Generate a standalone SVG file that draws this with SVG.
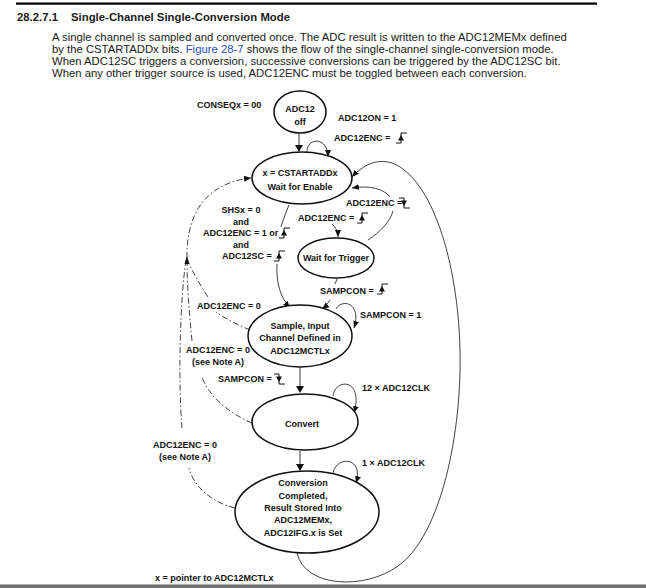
<svg xmlns="http://www.w3.org/2000/svg" xmlns:xlink="http://www.w3.org/1999/xlink" width="646" height="588" viewBox="0 0 646 588">
<style>
.t{font-family:"Liberation Sans",Arial,sans-serif;font-size:9px;font-weight:bold;fill:#111}
.c{text-anchor:middle}
.p{font-family:"Liberation Sans",Arial,sans-serif;font-size:11.3px;fill:#1a1a1a}
.h{font-family:"Liberation Sans",Arial,sans-serif;font-size:11.3px;font-weight:bold;fill:#1a1a1a}
.n{fill:#fff;stroke:#111;stroke-width:1.5}
.l{fill:none;stroke:#111;stroke-width:0.8}
.d{fill:none;stroke:#111;stroke-width:0.8;stroke-dasharray:6 2.5 1.5 2.5}
.g{fill:none;stroke:#999;stroke-width:2}
</style>
<defs>
<marker id="a" markerUnits="userSpaceOnUse" markerWidth="8" markerHeight="8" refX="7" refY="4" orient="auto"><path d="M0,1 L7,4 L0,7 z" fill="#111"/></marker>
<symbol id="rise" overflow="visible"><path d="M0,10 H5 V0 H11" fill="none" stroke="#111" stroke-width="1"/><path d="M2,7.5 L5,2 L8,7.5 z" fill="#111"/></symbol>
<symbol id="fall" overflow="visible"><path d="M0,0 H5 V10 H11" fill="none" stroke="#111" stroke-width="1"/><path d="M2,2.5 L5,8 L8,2.5 z" fill="#111"/></symbol>
</defs>
<rect width="646" height="588" fill="#fff"/>
<rect x="16" y="2.5" width="581" height="2.2" fill="#000"/>
<text class="h" x="17" y="21" textLength="41">28.2.7.1</text>
<text class="h" x="71" y="21" textLength="219">Single-Channel Single-Conversion Mode</text>
<text class="p" x="52" y="41">A single channel is sampled and converted once. The ADC result is written to the ADC12MEMx defined</text>
<text class="p" x="52" y="53">by the CSTARTADDx bits. <tspan fill="#2a4fb5">Figure 28-7</tspan> shows the flow of the single-channel single-conversion mode.</text>
<text class="p" x="52" y="65">When ADC12SC triggers a conversion, successive conversions can be triggered by the ADC12SC bit.</text>
<text class="p" x="52" y="77">When any other trigger source is used, ADC12ENC must be toggled between each conversion.</text>

<g id="connectors">
<path class="g" d="M299,133 V147" /><path d="M295,145 L299,152 L303,145 z" fill="#111"/>
<path class="g" d="M300,367 V387" /><path d="M296,386 L300,393 L304,386 z" fill="#111"/>
<path class="g" d="M300,451 V465" /><path d="M296,464 L300,471 L304,464 z" fill="#111"/>
<path class="l" marker-end="url(#a)" d="M307,153 C306,137 328,136 328,157"/>
<path class="l" marker-end="url(#a)" d="M297,553 C305,588 365,590 398,566 C442,535 462,430 460,350 C458,262 432,178 392,163 C376,158 362,166 352,177"/>
<path class="l" d="M368,240 C380,232 390,222 393,211"/>
<path class="l" marker-end="url(#a)" d="M390,197 C384,189 370,185 352,188"/>
<path class="l" marker-end="url(#a)" d="M332,224 C336,228 338,232 338,237"/>
<path class="l" d="M289,205 C286,212 283,220 281,227"/>
<path class="l" marker-end="url(#a)" d="M277,264 C276,282 280,297 290,308"/>
<path class="l" d="M337,279 L335,284"/>
<path class="l" marker-end="url(#a)" d="M330,300 C328,303 326,306 322,309"/>
<path class="l" marker-end="url(#a)" d="M336,309 C342,298 362,303 354,328"/>
<path class="l" marker-end="url(#a)" d="M333,396 C335,378 364,378 354,413"/>
<path class="l" marker-end="url(#a)" d="M333,473 C337,455 364,457 356,483"/>
<path class="d" marker-end="url(#a)" d="M187,258 C186,215 205,183 251,178"/>
<path class="d" d="M235,508 C210,502 193,485 189,468"/>
<path class="d" d="M182,428 C178,380 180,300 186,260"/>
<path class="d" d="M252,423 C228,413 208,395 202,377"/>
<path class="d" d="M192,341 C189,310 187,285 187,260"/>
<path class="d" d="M250,330 C238,325 224,318 216,312"/>
<path class="d" d="M208,297 C200,285 193,272 188,262"/>
<path d="M184.5,264 L187,256 L189.5,264 z" fill="#111"/>
</g>

<g id="n-off"><ellipse class="n" cx="300" cy="112" rx="26" ry="21"/><text class="t c" x="300" y="112">ADC12</text><text class="t c" x="300" y="125">off</text></g>
<g id="n-enable"><ellipse class="n" cx="302" cy="178" rx="50" ry="26"/><text class="t c" x="300" y="176">x = CSTARTADDx</text><text class="t c" x="300" y="190">Wait for Enable</text></g>
<g id="n-trigger"><ellipse class="n" cx="336" cy="258" rx="38" ry="20"/><text class="t c" x="336" y="261">Wait for Trigger</text></g>
<g id="n-sample"><ellipse class="n" cx="300" cy="336" rx="52" ry="31"/><text class="t c" x="300" y="329">Sample, Input</text><text class="t c" x="300" y="341">Channel Defined in</text><text class="t c" x="300" y="354">ADC12MCTLx</text></g>
<g id="n-convert"><ellipse class="n" cx="305" cy="422" rx="53" ry="28"/><text class="t c" x="302" y="427">Convert</text></g>
<g id="n-done"><ellipse class="n" cx="307" cy="512" rx="72" ry="41"/><text class="t c" x="303" y="486">Conversion</text><text class="t c" x="303" y="499">Completed,</text><text class="t c" x="303" y="511">Result Stored Into</text><text class="t c" x="303" y="523">ADC12MEMx,</text><text class="t c" x="303" y="536">ADC12IFG.x is Set</text></g>

<g id="labels">
<text class="t" x="197" y="108">CONSEQx = 00</text>
<text class="t" x="338" y="121">ADC12ON = 1</text>
<text class="t" x="334" y="141">ADC12ENC  =</text><use href="#rise" x="396" y="133"/>
<text class="t" x="346" y="206">ADC12ENC =</text><use href="#fall" x="399" y="198"/>
<text class="t" x="298" y="221">ADC12ENC  =</text><use href="#rise" x="357" y="213"/>
<text class="t c" x="241" y="213">SHSx = 0</text>
<text class="t c" x="241" y="225">and</text>
<text class="t" x="203" y="236">ADC12ENC = 1 or</text><use href="#rise" x="279" y="228"/>
<text class="t c" x="241" y="248">and</text>
<text class="t" x="222" y="259">ADC12SC =</text><use href="#rise" x="274" y="251"/>
<text class="t" x="320" y="294">SAMPCON =</text><use href="#rise" x="377" y="284"/>
<text class="t" x="197" y="309">ADC12ENC = 0</text>
<text class="t" x="360" y="318">SAMPCON = 1</text>
<text class="t c" x="218" y="353">ADC12ENC = 0</text>
<text class="t c" x="218" y="365">(see Note A)</text>
<text class="t" x="218" y="382">SAMPCON =</text><use href="#fall" x="274" y="374"/>
<text class="t" x="362" y="391">12 × ADC12CLK</text>
<text class="t c" x="185" y="448">ADC12ENC = 0</text>
<text class="t c" x="185" y="460">(see Note A)</text>
<text class="t" x="362" y="466">1 × ADC12CLK</text>
<text class="t" x="155" y="581">x = pointer to ADC12MCTLx</text>
</g>
<rect x="0" y="584" width="646" height="4" fill="#707070"/>
<rect x="0" y="584" width="646" height="1" fill="#b0b0b0"/>
</svg>
